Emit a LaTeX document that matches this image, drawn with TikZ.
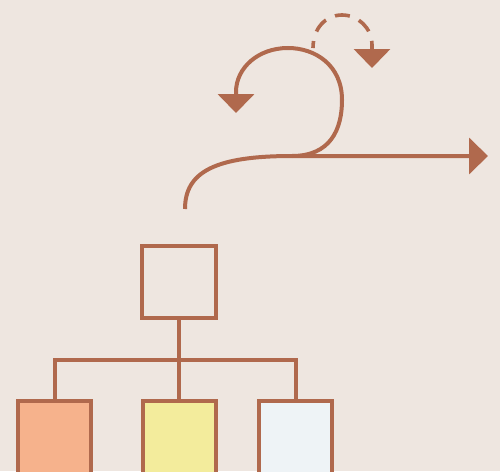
\documentclass[tikz,border=0pt]{standalone}
\usetikzlibrary{arrows.meta}
\definecolor{bg}{HTML}{EEE6E0}
\definecolor{brn}{HTML}{B0694D}
\definecolor{orng}{HTML}{F6B28C}
\definecolor{yell}{HTML}{F3EC9C}
\definecolor{lblue}{HTML}{EEF3F6}
\tikzset{
  box/.style={draw=brn, line width=4pt, minimum width=74pt, minimum height=72pt, inner sep=0pt, outer sep=0pt},
  kid/.style={box, minimum width=73pt, minimum height=100pt},
  conn/.style={draw=brn, line width=4pt},
  flow/.style={draw=brn, line width=4pt, -{Triangle[width=36pt,length=19pt]}, fill=none},
}
\begin{document}
\begin{tikzpicture}[x=1pt,y=-1pt]
\fill[bg] (0,0) rectangle (500,471);
\useasboundingbox (0,0) rectangle (500,471);
% tree
\node[box, fill=bg] (top) at (179,282) {};
\node[kid, fill=orng] (c1) at (54.5,451) {};
\node[kid, fill=yell] (c2) at (179,451) {};
\node[kid, fill=lblue] (c3) at (295.5,451) {};
\coordinate (bus) at (179,360);
\draw[conn] (top.south) -- (c2.north);
\draw[conn] (c1.north) |- (bus) -| (c3.north);
% flows
\coordinate (s) at (185,209);
\coordinate (j) at (292,156);
\coordinate (e) at (488,156);
\coordinate (l) at (236,113);
\coordinate (d0) at (313,48);
\coordinate (d1) at (372,68);
\draw[flow] (s) .. controls (185,172) and (215,156) .. (j) -- (e);
\draw[flow] (j) .. controls (330,156) and (342,130) .. (342,100)
  .. controls (342,65) and (315,48) .. (288,48)
  .. controls (258,48) and (236,68) .. (236,92) -- (l);
\draw[flow, line width=3.6pt, dash pattern=on 15pt off 10pt, dash phase=8pt] (d0) .. controls (313,28) and (326,15) .. (342,15)
  .. controls (358,15) and (372,28) .. (372,45) -- (d1);
\end{tikzpicture}
\end{document}
